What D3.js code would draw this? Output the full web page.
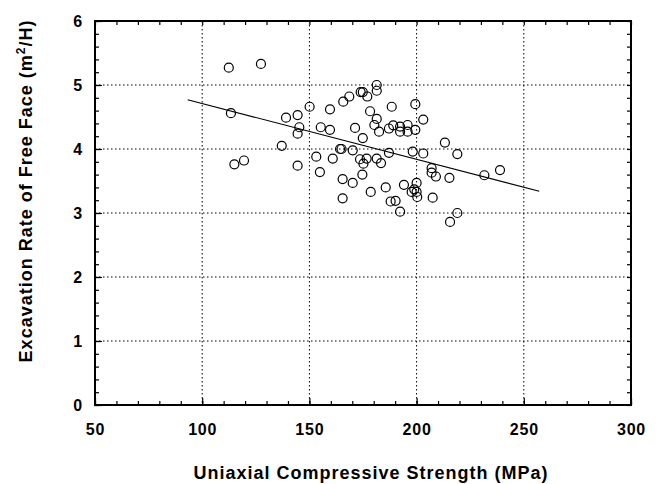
<!DOCTYPE html>
<html>
<head>
<meta charset="utf-8">
<script src="https://cdnjs.cloudflare.com/ajax/libs/d3/7.8.5/d3.min.js"></script>
<style>
  body { margin: 0; background: #fff; }
  svg { display: block; }
  .tick text { font-family: "Liberation Sans", Arial, sans-serif; font-weight: bold; font-size: 16px; letter-spacing: 0.8px; fill: #000; }
  .axis path { display: none; }
  .axis line { stroke: #000; stroke-width: 1.2; }
  .grid line { stroke: #000; stroke-width: 1; stroke-dasharray: 1.5,2.5; }
  .label { font-family: "Liberation Sans", Arial, sans-serif; font-weight: bold; font-size: 18px; letter-spacing: 1px; fill: #000; }
</style>
</head>
<body>
<script>
// strength (MPa) vs excavation rate (m2/H)
var strength = [112.4, 127.4, 113.4, 150.1, 139.1, 144.5, 145.3, 144.5, 155.3, 137.1,
                153.2, 115.0, 119.5, 144.5, 159.6, 165.8, 168.6, 173.9, 174.9, 177.0,
                181.4, 181.4, 178.3, 188.4, 199.4, 203.1, 181.4, 180.3, 182.5, 187.1,
                189.1, 192.3, 192.3, 195.8, 195.8, 199.4, 159.6, 171.3, 174.9, 164.3,
                165.0, 170.2, 160.9, 173.6, 176.7, 175.2, 181.4, 183.4, 187.1, 198.2,
                203.1, 154.9, 165.5, 170.2, 174.7, 165.5, 178.6, 185.6, 187.9, 190.2,
                192.3, 194.1, 197.7, 200.0, 198.9, 200.0, 200.3, 213.2, 219.0, 207.0,
                207.0, 209.0, 215.3, 231.6, 238.9, 207.5, 219.0, 215.6];
var rate = [5.27, 5.33, 4.56, 4.66, 4.49, 4.53, 4.34, 4.24, 4.34, 4.05,
            3.88, 3.76, 3.82, 3.74, 4.62, 4.74, 4.82, 4.89, 4.89, 4.82,
            5.00, 4.91, 4.59, 4.66, 4.70, 4.46, 4.47, 4.375, 4.27, 4.32,
            4.37, 4.35, 4.27, 4.375, 4.27, 4.30, 4.30, 4.33, 4.17, 4.00,
            4.00, 3.98, 3.85, 3.84, 3.85, 3.77, 3.85, 3.78, 3.94, 3.96,
            3.93, 3.64, 3.53, 3.47, 3.60, 3.23, 3.33, 3.40, 3.18, 3.19,
            3.02, 3.44, 3.33, 3.47, 3.37, 3.33, 3.25, 4.10, 3.92, 3.70,
            3.63, 3.57, 3.55, 3.59, 3.67, 3.24, 3.00, 2.86];

// fitted line end points
var fitX = [93.2, 257.2];
var fitY = [4.77, 3.34];

var xTicks = [50, 100, 150, 200, 250, 300];
var yTicks = [0, 1, 2, 3, 4, 5, 6];
var xMinor = d3.range(50, 301, 10);
var yMinor = d3.range(0, 6.01, 0.2);

var margin = {left: 95, right: 26, top: 21, bottom: 79};
var W = 657, H = 484;
var width = W - margin.left - margin.right;
var height = H - margin.top - margin.bottom;

var points = strength.map(function(s, i){ return {x: s, y: rate[i]}; });

var x = d3.scaleLinear().domain([50, 300]).range([0, width]);
var y = d3.scaleLinear().domain([0, 6]).range([height, 0]);

var svg = d3.select("body").append("svg").attr("width", W).attr("height", H);
var g = svg.append("g").attr("transform", "translate(" + margin.left + "," + margin.top + ")");

// dotted grid
g.append("g").attr("class", "grid")
  .selectAll("line").data(xTicks.slice(1, -1)).enter().append("line")
  .attr("x1", function(d){ return x(d); }).attr("x2", function(d){ return x(d); })
  .attr("y1", 0).attr("y2", height);
g.append("g").attr("class", "grid")
  .selectAll("line").data(yTicks.slice(1, -1)).enter().append("line")
  .attr("y1", function(d){ return y(d); }).attr("y2", function(d){ return y(d); })
  .attr("x1", 0).attr("x2", width);

// minor ticks, all four sides, pointing in
g.append("g").attr("class", "axis").attr("transform", "translate(0," + height + ")")
  .call(d3.axisBottom(x).tickValues(xMinor).tickSize(-4).tickFormat(""));
g.append("g").attr("class", "axis")
  .call(d3.axisTop(x).tickValues(xMinor).tickSize(-4).tickFormat(""));
g.append("g").attr("class", "axis")
  .call(d3.axisLeft(y).tickValues(yMinor).tickSize(-4).tickFormat(""));
g.append("g").attr("class", "axis").attr("transform", "translate(" + width + ",0)")
  .call(d3.axisRight(y).tickValues(yMinor).tickSize(-4).tickFormat(""));

// major ticks with labels
g.append("g").attr("class", "axis").attr("transform", "translate(0," + height + ")")
  .call(d3.axisBottom(x).tickValues(xTicks).tickSize(-7).tickPadding(19).tickFormat(d3.format("d")));
g.append("g").attr("class", "axis")
  .call(d3.axisLeft(y).tickValues(yTicks).tickSize(-7).tickPadding(12).tickFormat(d3.format("d")));

// frame
g.append("rect").attr("width", width).attr("height", height)
  .attr("fill", "none").attr("stroke", "#000").attr("stroke-width", 2);

// fit line
g.append("line")
  .attr("x1", x(fitX[0])).attr("y1", y(fitY[0]))
  .attr("x2", x(fitX[1])).attr("y2", y(fitY[1]))
  .attr("stroke", "#000").attr("stroke-width", 1.2);

// points
g.selectAll("circle.pt").data(points).enter().append("circle")
  .attr("class", "pt")
  .attr("cx", function(d){ return x(d.x); })
  .attr("cy", function(d){ return y(d.y); })
  .attr("r", 4.5)
  .attr("fill", "none").attr("stroke", "#000").attr("stroke-width", 1.2);

// axis titles
svg.append("text").attr("class", "label")
  .attr("x", margin.left + width / 2 + 8).attr("y", 479)
  .attr("text-anchor", "middle")
  .text("Uniaxial Compressive Strength (MPa)");

var yl = svg.append("text").attr("class", "label")
  .attr("transform", "translate(32,191) rotate(-90)")
  .attr("text-anchor", "middle");
yl.append("tspan").text("Excavation Rate of Free Face (m");
yl.append("tspan").attr("dy", -7).style("font-size", "12px").text("2");
yl.append("tspan").attr("dy", 7).text("/H)");
</script>
</body>
</html>
